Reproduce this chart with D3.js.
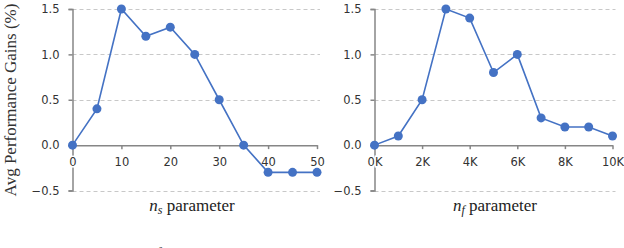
<!DOCTYPE html>
<html>
<head>
<meta charset="utf-8">
<script src="https://cdn.jsdelivr.net/npm/d3@7"></script>
<style>
  body { margin: 0; background: #fff; }
  svg { display: block; }
</style>
</head>
<body>
<svg id="chart" width="624" height="248"></svg>
<script>
// n_s panel
const nsValues = [0, 5, 10, 15, 20, 25, 30, 35, 40, 45, 50];
const nsGains = [0, 0.4, 1.5, 1.2, 1.3, 1.0, 0.5, 0, -0.3, -0.3, -0.3];
const nsTicks = [0, 10, 20, 30, 40, 50];

// n_f panel
const nfValues = [0, 1000, 2000, 3000, 4000, 5000, 6000, 7000, 8000, 9000, 10000];
const nfGains = [0, 0.1, 0.5, 1.5, 1.4, 0.8, 1.0, 0.3, 0.2, 0.2, 0.1];
const nfTicks = [0, 2000, 4000, 6000, 8000, 10000];

const yTicks = [-0.5, 0, 0.5, 1.0, 1.5];

const svg = d3.select("#chart");
const blue = "#4472c4";
const axisGrey = "#868686";
const tickFont = "'DejaVu Sans', Verdana, sans-serif";
const serif = "'Liberation Serif', 'Times New Roman', serif";

const y = d3.scaleLinear().domain([-0.5, 1.5]).range([190.5, 9]);

function drawPanel(xs, ys, ticks, x0, x1, fmt, sub, titleX) {
  const x = d3.scaleLinear().domain([xs[0], xs[xs.length - 1]]).range([x0, x1]);
  const g = svg.append("g");

  // dashed gridlines (not at zero)
  g.selectAll("line.grid").data(yTicks.filter(d => d !== 0)).enter().append("line")
    .attr("x1", x0).attr("x2", x1 + 3)
    .attr("y1", d => Math.round(y(d)) + 0.5).attr("y2", d => Math.round(y(d)) + 0.5)
    .attr("stroke", "#c8c8c8").attr("stroke-dasharray", "4,3");

  // y axis
  const yAxis = g.append("g").attr("transform", `translate(${x0},0)`)
    .call(d3.axisLeft(y).tickValues(yTicks).tickSize(4).tickPadding(9).tickFormat(d3.format(".1f")));
  yAxis.select(".domain").attr("stroke", axisGrey).attr("stroke-width", 1.5);
  yAxis.selectAll(".tick line").attr("stroke", axisGrey).attr("stroke-width", 1.5);
  yAxis.selectAll("text").attr("font-family", tickFont).attr("font-size", 11.5).attr("fill", "#333");

  // x axis at zero
  const xAxis = g.append("g").attr("transform", `translate(0,${y(0)})`)
    .call(d3.axisBottom(x).tickValues(ticks).tickSize(4).tickSizeOuter(0).tickPadding(9).tickFormat(fmt));
  xAxis.select(".domain").attr("stroke", axisGrey).attr("stroke-width", 1.5);
  xAxis.selectAll(".tick line").attr("stroke", axisGrey).attr("stroke-width", 1.5);
  xAxis.selectAll("text").attr("font-family", tickFont).attr("font-size", 11.5).attr("fill", "#333")
    .attr("stroke", "#fff").attr("stroke-width", 3).attr("paint-order", "stroke");

  // series
  const pts = xs.map((v, i) => [v, ys[i]]);
  g.append("path").datum(pts)
    .attr("fill", "none").attr("stroke", blue).attr("stroke-width", 1.6)
    .attr("d", d3.line().x(d => x(d[0])).y(d => y(d[1])));
  g.selectAll("circle").data(pts).enter().append("circle")
    .attr("cx", d => x(d[0])).attr("cy", d => y(d[1])).attr("r", 4.5).attr("fill", blue);

  // x title
  const t = g.append("text").attr("x", titleX).attr("y", 211).attr("text-anchor", "middle")
    .attr("font-family", serif).attr("font-size", 17).attr("fill", "#222");
  t.append("tspan").attr("font-style", "italic").text("n");
  t.append("tspan").attr("font-style", "italic").attr("font-size", 12).attr("dy", 3).text(sub);
  t.append("tspan").attr("dy", -3).text(" parameter");
}

drawPanel(nsValues, nsGains, nsTicks, 72.5, 317, d3.format("d"), "s", 192);
drawPanel(nfValues, nfGains, nfTicks, 374.5, 612.5, d => d / 1000 + "K", "f", 495);

// y axis title
svg.append("text")
  .attr("transform", "translate(16,100) rotate(-90)")
  .attr("text-anchor", "middle")
  .attr("font-family", serif).attr("font-size", 17).attr("fill", "#333")
  .text("Avg Performance Gains (%)");

// caption, cut off at the bottom edge like the reference
svg.append("text").attr("x", 0).attr("y", 261)
  .attr("font-family", serif).attr("font-size", 18).attr("fill", "#444")
  .text("Figure 3: Average performance gains by parameter on");
svg.append("text").attr("x", 458).attr("y", 261)
  .attr("font-family", serif).attr("font-size", 18).attr("fill", "#444")
  .text("MT and SST");
</script>
</body>
</html>
